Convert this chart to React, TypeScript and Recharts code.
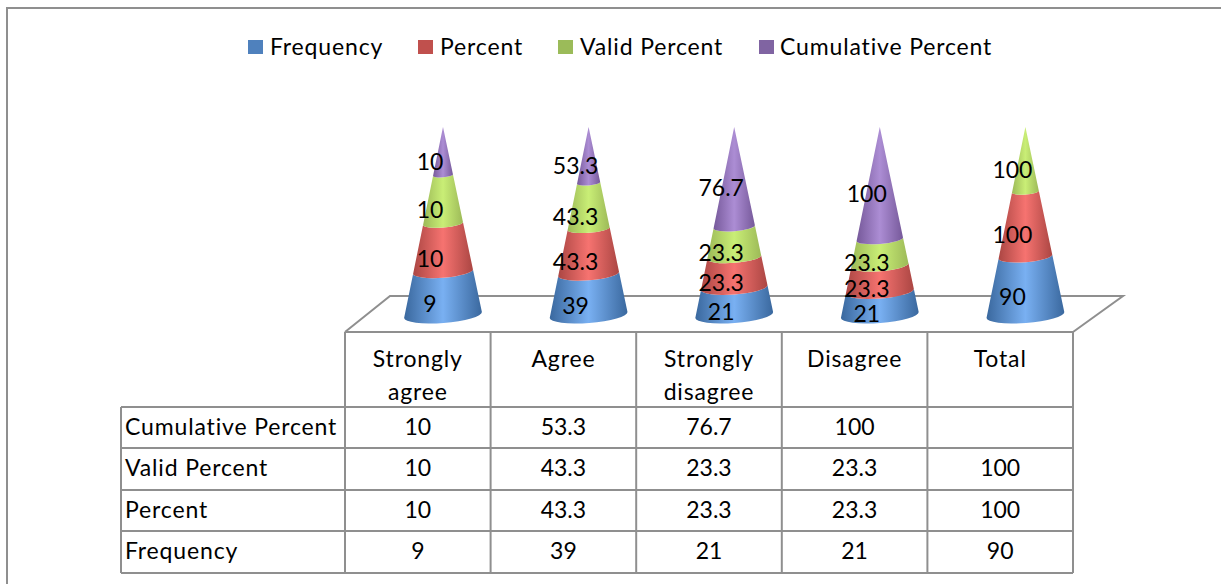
import { Bar, BarChart, LabelList, Legend, XAxis, YAxis } from "recharts";

const CATEGORIES = ["Strongly agree", "Agree", "Strongly disagree", "Disagree", "Total"];
const FREQUENCY = [9, 39, 21, 21, 90];
const PERCENT = [10, 43.3, 23.3, 23.3, 100];
const VALID_PERCENT = [10, 43.3, 23.3, 23.3, 100];
const CUMULATIVE_PERCENT: (number | null)[] = [10, 53.3, 76.7, 100, null];

const SERIES = [
  { key: "Frequency", values: FREQUENCY, flat: "#4f81bd", edge: "#3a689e", mid: "#79b0f2" },
  { key: "Percent", values: PERCENT, flat: "#c0504d", edge: "#ab4643", mid: "#f67370" },
  { key: "Valid Percent", values: VALID_PERCENT, flat: "#9bbb59", edge: "#9dba58", mid: "#c9ee76" },
  { key: "Cumulative Percent", values: CUMULATIVE_PERCENT, flat: "#8064a2", edge: "#76599a", mid: "#ac8dd4" },
];

const data = CATEGORIES.map((name, i) => {
  const row: Record<string, string | number | null> = { name };
  SERIES.forEach((s) => {
    row[s.key] = s.values[i];
  });
  return row;
});

const FONT = "Lato, Carlito, sans-serif";
const FONT_SIZE = 23;
const WORD_SPACING = 0.85; // Lato runs narrower than the original face on words, not on digits
const GRID = "#8f8f8f";

const PLOT_TOP = 127;
const PLOT_BOTTOM = 315;
const LEGEND_HEIGHT = 40;
const CONE_OFFSET = 25; // the 3D floor pushes the cones right of their table column

const TABLE_LEFT = 121;
const COL_LEFT = 345;
const COL_WIDTH = 145.6;
const ROW_LINES = [407, 448, 490, 531, 573];
const TABLE_TOP = 332;
const TABLE_ROWS = ["Cumulative Percent", "Valid Percent", "Percent", "Frequency"];
const TABLE_VALUES = [CUMULATIVE_PERCENT, VALID_PERCENT, PERCENT, FREQUENCY];
const ROW_TEXT_Y = [425.5, 467, 509, 550];

const LEGEND_X: Record<string, [number, number]> = {
  Frequency: [248, 270],
  Percent: [418, 440],
  "Valid Percent": [558, 580],
  "Cumulative Percent": [759, 780],
};

const TILT = 4.4;
const BASE_RY = 8;

// One slice of the cone: radius shrinks linearly from the base up to the tip.
function ConeSlice(props: any) {
  const { x, y, width, height, gradient } = props;
  if (!height || height <= 0) return null;
  const cx = x + width / 2;
  const R = width / 2;
  const full = PLOT_BOTTOM - PLOT_TOP;
  const radiusAt = (py: number) => (R * (py - PLOT_TOP)) / full;
  const rad = (TILT * Math.PI) / 180;
  const yTop = y;
  const yBot = y + height;
  const rb = radiusAt(yBot);
  const rt = Math.max(radiusAt(yTop), 0.01);
  const ryb = (BASE_RY * rb) / R;
  const ryt = (BASE_RY * rt) / R;
  const px = (r: number) => r * Math.cos(rad);
  const py = (r: number) => r * Math.sin(rad);
  const d =
    `M${cx - px(rb)},${yBot + py(rb)} ` +
    `A${rb},${ryb} ${-TILT} 0 0 ${cx + px(rb)},${yBot - py(rb)} ` +
    `L${cx + px(rt)},${yTop - py(rt)} ` +
    `A${rt},${ryt} ${-TILT} 0 1 ${cx - px(rt)},${yTop + py(rt)} Z`;
  return <path d={d} fill={`url(#${gradient})`} />;
}

function ConeLabel(props: any) {
  const { x, y, width, height, value } = props;
  if (value == null) return null;
  return (
    <text
      x={x + width / 2 - 13}
      y={y + height / 2 + 10}
      textAnchor="middle"
      dominantBaseline="central"
      fontFamily={FONT}
      fontSize={FONT_SIZE}
      fill="#000"
    >
      {value}
    </text>
  );
}

function HeaderTick(props: any) {
  const { x, payload } = props;
  const words = String(payload.value).split(" ");
  return (
    <text textAnchor="middle" fontFamily={FONT} fontSize={FONT_SIZE} letterSpacing={WORD_SPACING} fill="#000">
      {words.map((w, i) => (
        <tspan key={i} x={x - CONE_OFFSET} y={357.5 + i * 33} dominantBaseline="central">
          {w}
        </tspan>
      ))}
    </text>
  );
}

function LegendRow({ payload }: any) {
  return (
    <div
      style={{
        position: "relative",
        width: 1221,
        height: LEGEND_HEIGHT,
        fontFamily: FONT,
        fontSize: FONT_SIZE,
        letterSpacing: WORD_SPACING,
      }}
    >
      {(payload ?? []).map((item: any) => {
        const [box, label] = LEGEND_X[item.value];
        return (
          <div key={item.value}>
            <span style={{ position: "absolute", left: box, top: 7, width: 15, height: 14, background: item.color }} />
            <span style={{ position: "absolute", left: label, top: -1, lineHeight: "28px", whiteSpace: "nowrap", color: "#000" }}>
              {item.value}
            </span>
          </div>
        );
      })}
    </div>
  );
}

function Frame() {
  const right = COL_LEFT + COL_WIDTH * 5;
  return (
    <g fill="none" stroke={GRID} strokeWidth={2}>
      <polyline points="7,584 7,8 1221,8" />
      {/* floor */}
      <polyline points={`${COL_LEFT},${TABLE_TOP} 390,296 1123,296 ${right},${TABLE_TOP}`} />
      {/* table grid */}
      <line x1={COL_LEFT} x2={right} y1={TABLE_TOP} y2={TABLE_TOP} />
      {ROW_LINES.map((y) => (
        <line key={y} x1={TABLE_LEFT} x2={right} y1={y} y2={y} />
      ))}
      <line x1={TABLE_LEFT} x2={TABLE_LEFT} y1={ROW_LINES[0]} y2={ROW_LINES[4]} />
      {[0, 1, 2, 3, 4, 5].map((i) => (
        <line key={i} x1={COL_LEFT + COL_WIDTH * i} x2={COL_LEFT + COL_WIDTH * i} y1={TABLE_TOP} y2={ROW_LINES[4]} />
      ))}
    </g>
  );
}

function TableText() {
  return (
    <g fontFamily={FONT} fontSize={FONT_SIZE} fill="#000">
      {TABLE_ROWS.map((label, r) => (
        <g key={label}>
          <text x={TABLE_LEFT + 4} y={ROW_TEXT_Y[r]} dominantBaseline="central" letterSpacing={WORD_SPACING}>
            {label}
          </text>
          {TABLE_VALUES[r].map((v, c) =>
            v == null ? null : (
              <text
                key={c}
                x={COL_LEFT + COL_WIDTH * (c + 0.5)}
                y={ROW_TEXT_Y[r]}
                textAnchor="middle"
                dominantBaseline="central"
              >
                {v}
              </text>
            ),
          )}
        </g>
      ))}
    </g>
  );
}

export default function App() {
  return (
    <div style={{ position: "absolute", left: 0, top: 0, width: 1221, height: 584, background: "#fff", overflow: "hidden" }}>
      <BarChart
        width={1221}
        height={584}
        data={data}
        stackOffset="expand"
        barSize={78}
        margin={{ top: PLOT_TOP - LEGEND_HEIGHT, right: 123, bottom: 239, left: 370 }}
      >
        <defs>
          {SERIES.map((s, i) => (
            <linearGradient key={s.key} id={`cone-${i}`} x1="0" y1="0" x2="1" y2="0">
              <stop offset="0" stopColor={s.edge} />
              <stop offset="0.5" stopColor={s.mid} />
              <stop offset="1" stopColor={s.edge} />
            </linearGradient>
          ))}
        </defs>
        <Frame />
        <TableText />
        <XAxis dataKey="name" axisLine={false} tickLine={false} height={30} interval={0} tick={<HeaderTick />} />
        <YAxis hide domain={[0, 1]} />
        <Legend
          content={<LegendRow />}
          itemSorter={null}
          verticalAlign="top"
          wrapperStyle={{ left: 0, top: 33, width: 1221, height: LEGEND_HEIGHT }}
        />
        {SERIES.map((s, i) => (
          <Bar
            key={s.key}
            dataKey={s.key}
            stackId="cone"
            fill={s.flat}
            isAnimationActive={false}
            shape={(p: any) => <ConeSlice {...p} gradient={`cone-${i}`} />}
          >
            <LabelList dataKey={s.key} content={<ConeLabel />} />
          </Bar>
        ))}
      </BarChart>
    </div>
  );
}
